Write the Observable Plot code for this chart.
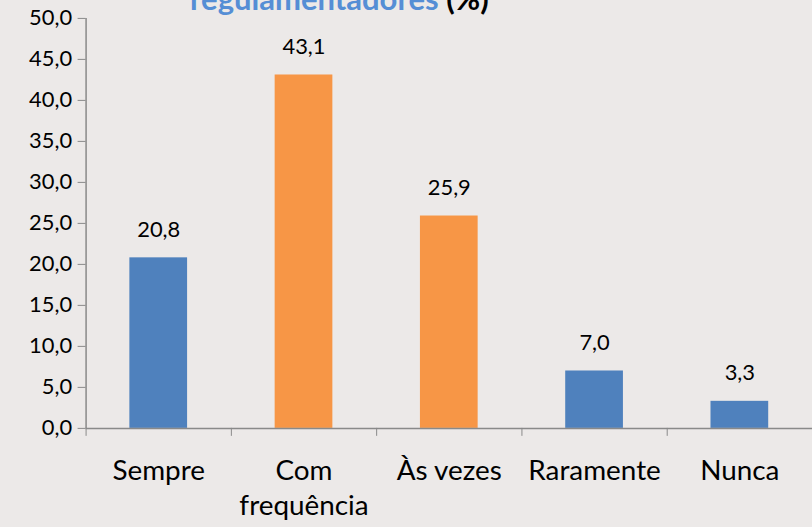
<!DOCTYPE html>
<html>
<head>
<meta charset="utf-8">
<script src="https://cdn.jsdelivr.net/npm/d3@7"></script>
<script src="https://cdn.jsdelivr.net/npm/@observablehq/plot@0.6"></script>
<style>
  html, body { margin: 0; padding: 0; background: #ECE9E8; overflow: hidden; }
  #wrap { position: relative; width: 812px; height: 527px; overflow: hidden; font-family: Lato, "Open Sans", sans-serif; }
  #title { position: absolute; left: 190px; top: -17px; font-size: 31px; line-height: 31px; font-weight: bold; color: #558ED5; white-space: nowrap; z-index: 2; }
  #title span { color: #000; }
  #chart { position: absolute; left: 0; top: 0; }
</style>
</head>
<body>
<div id="wrap">
  <div id="title">regulamentadores <span>(%)</span></div>
  <div id="chart"></div>
</div>
<script>
const categories = ["Sempre", "Com\nfrequência", "Às vezes", "Raramente", "Nunca"];
const values = [20.8, 43.1, 25.9, 7.0, 3.3];
const barColors = ["#4F81BD", "#F79646", "#F79646", "#4F81BD", "#4F81BD"];
const yTicks = [0, 5, 10, 15, 20, 25, 30, 35, 40, 45, 50];

const data = categories.map((c, i) => ({cat: c, i, value: values[i], color: barColors[i]}));
const fmt = d => d.toFixed(1).replace(".", ",");
const axisColor = "#898989";

const chart = Plot.plot({
  width: 816,
  height: 527,
  marginLeft: 86,
  marginRight: 0,
  marginTop: 18,
  marginBottom: 97,
  style: {background: "transparent", fontFamily: "Lato, 'Open Sans', sans-serif", overflow: "visible"},
  x: {type: "linear", domain: [0, 5], axis: null},
  y: {domain: [0, 50], axis: null},
  marks: [
    Plot.rectY(data, {x1: d => d.i, x2: d => d.i + 1, y1: 0, y2: "value", fill: "color", insetLeft: 44, insetRight: 44}),
    Plot.ruleY([0], {stroke: axisColor, strokeWidth: 1.5}),
    Plot.ruleX([0], {y1: 0, y2: 50, stroke: axisColor, strokeWidth: 1.5}),
    Plot.axisY({ticks: yTicks, tickFormat: fmt, tickSize: 8, tickPadding: 6, stroke: axisColor, fontSize: 22, color: "#000", label: null}),
    Plot.axisX({ticks: [0, 1, 2, 3, 4, 5], tickFormat: () => "", tickSize: 8, stroke: axisColor, label: null}),
    Plot.text(data, {x: d => d.i + 0.5, y: "value", text: d => fmt(d.value), dy: -28, fontSize: 22, fill: "#000"}),
    Plot.text(data, {x: d => d.i + 0.5, text: "cat", frameAnchor: "bottom", lineAnchor: "top", dy: 27, fontSize: 28, lineHeight: 1.25, fill: "#000"})
  ]
});
document.getElementById("chart").appendChild(chart);
</script>
</body>
</html>
